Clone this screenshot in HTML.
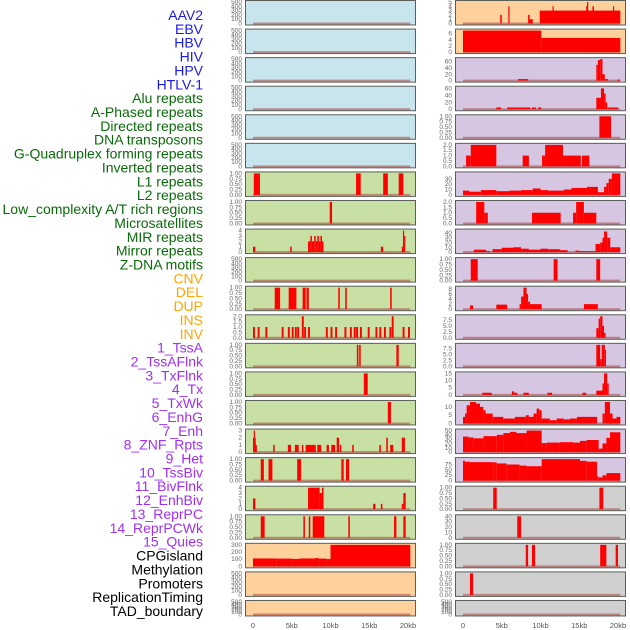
<!DOCTYPE html>
<html><head><meta charset="utf-8"><style>
html,body{margin:0;padding:0;background:#fff;}
svg{display:block;font-family:"Liberation Sans",sans-serif;}
</style></head><body>
<svg id="c" width="630" height="630" viewBox="0 0 630 630" xmlns="http://www.w3.org/2000/svg"></svg>
<script>
const labelNames=["AAV2","EBV","HBV","HIV","HPV","HTLV-1","Alu repeats","A-Phased repeats","Directed repeats","DNA transposons","G-Quadruplex forming repeats","Inverted repeats","L1 repeats","L2 repeats","Low_complexity A/T rich regions","Microsatellites","MIR repeats","Mirror repeats","Z-DNA motifs","CNV","DEL","DUP","INS","INV","1_TssA","2_TssAFlnk","3_TxFlnk","4_Tx","5_TxWk","6_EnhG","7_Enh","8_ZNF_Rpts","9_Het","10_TssBiv","11_BivFlnk","12_EnhBiv","13_ReprPC","14_ReprPCWk","15_Quies","CPGisland","Methylation","Promoters","ReplicationTiming","TAD_boundary"];
const labelGroups=[6,13,5,15,5];
const groupColors=["#1a1ae6","#0a6a0a","#ffa500","#a030f0","#000000"];
const xTickVals=[0,5,10,15,20];
const xTickLabels=["0","5kb","10kb","15kb","20kb"];
const T500=[[0,100,200,300,400,500],["0","100","200","300","400","500"]];
const T1=[[0,0.25,0.5,0.75,1],["0.00","0.25","0.50","0.75","1.00"]];
const T2=[[0,0.5,1,1.5,2],["0.0","0.5","1.0","1.5","2.0"]];
const T4=[[0,1,2,3,4],["0","1","2","3","4"]];
const T3=[[0,1,2,3],["0","1","2","3"]];
const leftMax=[500,500,500,500,500,500,1,1,4,500,1,2,1,1,1,3,1,4,1,300,500,500];
const leftTicks=[T500,T500,T500,T500,T500,T500,T1,T1,T4,T500,T1,T2,T1,T1,T1,T3,T1,T4,T1,[[0,100,200,300],["0","100","200","300"]],T500,T500];
const leftBg=["#c8e4ec","#c8e4ec","#c8e4ec","#c8e4ec","#c8e4ec","#c8e4ec","#c8e0a4","#c8e0a4","#c8e0a4","#c8e0a4","#c8e0a4","#c8e0a4","#c8e0a4","#c8e0a4","#c8e0a4","#c8e0a4","#c8e0a4","#c8e0a4","#c8e0a4","#fdd09c","#fdd09c","#fdd09c"];
const l11pos=[0,0.6,1.6,3.7,4.5,5.0,5.4,5.7,6.6,7.1,9.4,10.0,10.6,11.8,12.5,13.0,13.3,13.8,14.8,15.8,16.3,16.9,17.6,19.3,20.0];
const leftSegs=[[],[],[],[],[],[],
[[0.1,0.9,1],[13.3,13.9,1],[16.8,17.4,1],[18.8,19.4,1]],
[[9.9,10.2,1]],
[[0,0.3,1],[4.8,5.0,1],[7.1,7.4,2],[7.4,7.6,3],[7.6,7.9,2],[7.9,8.1,3],[8.1,8.3,2],[8.3,8.5,3],[8.5,8.7,2],[8.7,8.9,3],[8.9,9.1,2],[16.5,16.8,1],[19.2,19.35,1],[19.35,19.5,4],[19.5,19.6,3]],
[],
[[2.8,3.5,1],[4.6,5.6,1],[6.4,6.8,1],[6.9,7.2,1],[11,11.2,1],[11.9,12.1,1],[17.7,17.9,1]],
l11pos.map(p=>[p,p+0.25,1]).concat([[6.3,6.55,2],[17.9,18.15,2]]),
[[13.4,13.6,1],[13.7,13.9,1],[18.5,18.8,1]],
[[14.3,14.8,1]],
[[17.4,17.8,1]],
[[0,0.1,2],[0.1,0.2,3],[0.2,0.3,2],[0.3,0.5,1],[2.6,2.8,1],[4.5,4.9,1],[5.4,5.9,1],[6.3,6.5,1],[6.8,8.1,1],[8.3,8.8,1],[9.5,9.8,1],[10.1,10.6,1],[10.8,11.1,2],[11.2,11.4,1],[12.8,13.0,1],[16.3,16.5,1],[17.2,17.4,2],[17.7,18.1,1],[19.2,19.6,2]],
[[1.0,1.4,1],[2.0,2.5,1],[5.7,6.2,1],[11.4,11.7,1],[12.0,12.4,1]],
[[0,0.3,2],[7.1,8.6,4],[8.6,8.9,3],[8.9,9.1,4],[15.5,15.8,1],[16.5,16.7,1],[19.2,19.4,1],[19.4,19.7,3]],
[[1.0,1.5,1],[6.5,6.7,1],[7.2,7.4,1],[7.7,9.2,1],[12.3,12.5,1],[18.2,18.5,1],[19.4,19.7,1]],
[[0,3,110],[3,5,108],[5,6,104],[6,8,110],[8,8.5,115],[8.5,9.5,108],[9.5,10,102],[10,20.3,300]],
[],[]];
const rightMax=[5,7,68,62,1,2,40,2,45,1,8.5,9,9,15,13,50,100,1,40,1,1,500];
const rightTicks=[[[0,1,2,3,4,5],["0","1","2","3","4","5"]],[[0,2,4,6],["0","2","4","6"]],[[0,20,40,60],["0","20","40","60"]],[[0,20,40,60],["0","20","40","60"]],T1,T2,[[0,10,20,30],["0","10","20","30"]],T2,[[0,10,20,30,40],["0","10","20","30","40"]],T1,[[0,2,4,6,8],["0","2","4","6","8"]],[[0,2.5,5,7.5],["0.0","2.5","5.0","7.5"]],[[0,2.5,5,7.5],["0.0","2.5","5.0","7.5"]],[[0,5,10,15],["0","5","10","15"]],[[0,5,10],["0","5","10"]],[[0,10,20,30,40,50],["0","10","20","30","40","50"]],[[0,25,50,75],["0","25","50","75"]],T1,[[0,10,20,30,40],["0","10","20","30","40"]],T1,T1,T500];
const rightBg=["#fdd09c","#fdd09c"].concat(Array(15).fill("#d6c6e2")).concat(Array(5).fill("#d0d0d0"));
const rightSegs=[
[[4.8,5.0,2],[5.85,6.0,4],[8.4,8.6,2],[8.6,9.0,1],[9.9,20.3,3],[11.55,11.7,4],[15.9,16.0,4],[16.0,16.1,5],[16.7,16.9,4],[19.35,19.5,4]],
[[0,10.1,7],[10.1,20.3,4.6]],
[[7.1,8.4,5],[17.2,17.4,50],[17.4,17.7,65],[17.7,18.0,68],[18.0,18.3,20],[18.3,18.7,5],[19.9,20.3,3]],
[[4.3,4.9,5],[5.7,8.7,5],[8.9,9.4,5],[9.7,10.1,5],[17.2,17.8,33],[17.8,18.2,60],[18.2,18.4,45],[18.4,18.6,20],[18.6,20.0,5]],
[[17.6,19.1,1]],
[[0.4,1.0,1],[1.0,4.3,2],[7.7,8.5,1],[10.2,10.6,1],[10.6,12.9,2],[12.9,15.2,1],[15.35,16.3,1]],
[[0,0.8,8],[0.8,2.3,6],[2.3,4.3,9],[4.3,6,7],[6,7.5,8],[7.5,9,9],[9,10,12],[10,11,9],[11,13,8],[13,14,10],[14,16,13],[16,17.4,15],[17.4,18.2,5],[18.2,18.5,15],[18.5,18.8,22],[18.8,19.2,30],[19.2,20.3,40]],
[[1.7,2.75,2],[2.75,3.2,1],[8.9,12.6,1],[14.2,14.6,1],[14.6,15.6,2],[15.6,17.2,1]],
[[1.4,3,5],[3,3.5,2],[3.8,5,6],[5,6.5,9],[6.5,7.5,10],[7.5,8.5,7],[8.5,10,5],[10,11,7],[11,12.5,6],[12.5,13.5,4],[14.5,15,3],[15,17.1,2],[17.1,17.7,17],[17.7,18.0,20],[18.0,18.2,30],[18.2,18.6,43],[18.6,19.0,30],[19.0,20.3,10]],
[[1.0,1.9,1],[11.7,12.2,1],[17.2,17.7,1]],
[[0.9,1.3,1.5],[4.3,5.7,1.8],[7.3,7.5,2],[7.5,7.8,5],[7.8,8.2,8.5],[8.2,8.4,6],[8.4,8.65,3],[8.65,10.15,2],[15.6,17.4,2]],
[[17.2,17.5,4],[17.5,17.7,8],[17.7,18.0,9],[18.0,18.2,5],[18.2,18.4,2]],
[[17.2,17.7,9],[17.7,17.9,3],[17.9,18.3,9],[18.3,18.45,7]],
[[2.5,3.7,1.5],[6.3,6.6,2.5],[6.6,7.0,1.5],[7.8,8.5,1.5],[10.9,11.5,1.5],[15.4,15.9,1.5],[17.2,18.0,3],[18.0,18.2,8],[18.2,18.6,15],[18.6,18.8,8]],
[[0,0.26,4],[0.26,0.47,6],[0.47,0.9,11],[0.9,1.68,13],[1.68,2.19,12],[2.19,2.63,10],[2.63,2.92,8],[2.92,3.83,6],[3.83,5.2,4],[5.2,6.7,3],[6.7,8.1,4],[8.1,8.5,5],[8.5,9.1,4],[9.1,9.5,6],[9.5,9.85,9],[9.85,10.15,8],[10.15,11.2,3],[11.2,12.1,2],[12.1,13,3],[13,13.8,2.5],[13.8,14.7,3],[14.7,17.3,4],[18.0,18.3,6],[18.3,18.97,13],[18.97,19.3,6],[19.3,19.8,3],[19.8,20.3,4]],
[[0,0.7,36],[0.7,1.33,34],[1.33,2.63,32],[2.63,4.35,37],[4.35,5.2,40],[5.2,6.06,44],[6.06,6.9,47],[6.9,8.2,44],[8.2,10.15,50],[10.15,10.8,21],[10.8,12.5,22],[12.5,14.2,23],[14.2,15.1,22],[15.1,15.96,26],[15.96,17.5,28],[17.5,18.0,8],[18.0,18.5,20],[18.5,18.97,33],[18.97,20.3,46]],
[[0,0.26,92],[0.26,0.9,88],[0.9,3.9,86],[3.9,4.35,85],[4.35,5.6,80],[5.6,7.3,75],[7.3,8.2,70],[8.2,10.15,67],[10.15,15.1,100],[15.1,15.96,92],[15.96,17.3,88],[17.3,17.5,20],[17.5,18.0,15],[18.0,18.5,25],[18.5,20.3,35]],
[[3.9,4.35,1],[17.6,18.1,1]],
[[7.0,7.5,40]],
[[8.1,8.4,1],[8.9,9.3,1],[17.7,18.5,1],[19.7,20.0,1]],
[[0.9,1.3,1]],
[]];

const NS="http://www.w3.org/2000/svg";
const svg=document.getElementById('c');
function mk(tag,attrs,parent){const e=document.createElementNS(NS,tag);for(const k in attrs)e.setAttribute(k,attrs[k]);(parent||svg).appendChild(e);return e;}

// labels
let li=0;
labelGroups.forEach((n,g)=>{for(let k=0;k<n;k++){const t=mk('text',{x:203,y:15+li*13.86+5,'text-anchor':'end','font-size':'14',fill:groupColors[g]});


t.textContent=labelNames[li];li++;}});

function panelTop(i){return 0.5+i*28.57;}
function panelH(i){return i===21?15.5:24.5;}

function drawColumn(x0,segsArr,maxArr,tickArr,bgArr,side){
  const pxL=x0, pxR=x0+171, zero=x0+8;
  const xs=kb=>zero+kb*7.75;
  for(let i=0;i<22;i++){
    const top=panelTop(i),h=panelH(i);
    const yB=top+h-1.5,yT=top+1.5;
    const ys=v=>yB-(v/maxArr[i])*(yB-yT);
    const g=mk('g',{});
    
    
    mk('rect',{x:pxL,y:top,width:171,height:h,fill:bgArr[i]},g);
    mk('line',{x1:xs(0),x2:xs(20.3),y1:yB,y2:yB,stroke:'rgba(170,70,60,0.55)','stroke-width':2},g);
    segsArr[i].forEach(s=>{
      const y=Math.max(ys(s[2]),top+0.5);
      const r=mk('rect',{x:xs(s[0]),y:y,width:Math.max(xs(s[1])-xs(s[0]),1.2),height:yB-y,fill:'#ff0000'},g);
      
      
    });
    mk('rect',{x:pxL+0.5,y:top,width:170,height:h,fill:'none',stroke:'#5a5f5a','stroke-width':1},g);
    const tv=tickArr[i][0],tl=tickArr[i][1];
    tv.forEach((v,k)=>{
      const t=mk('text',{x:pxL-3,y:ys(v)+2,'text-anchor':'end','font-size':'6.5',fill:'#666'},g);
      
      
      t.textContent=tl[k];
    });
  }
  xTickVals.forEach((v,k)=>{
    const t=mk('text',{x:xs(v),y:628,'text-anchor':'middle','font-size':'7.5',fill:'#555'});
    
    
    t.textContent=xTickLabels[k];
  });
}
drawColumn(245,leftSegs,leftMax,leftTicks,leftBg,'left');
drawColumn(455,rightSegs,rightMax,rightTicks,rightBg,'right');
</script>
</body></html>
